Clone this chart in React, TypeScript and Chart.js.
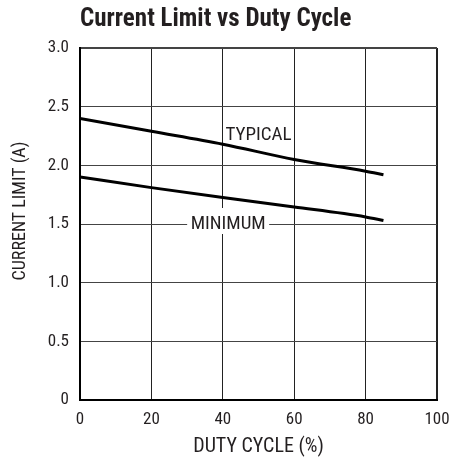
import React, { useEffect, useRef } from "react";
import { Chart, registerables } from "chart.js";

Chart.register(...registerables);

const FONT = "'Roboto Condensed', 'Liberation Sans Narrow', 'DejaVu Sans Condensed', sans-serif";

const chartTitle = "Current Limit vs Duty Cycle";
const xAxisTitle = "DUTY CYCLE (%)";
const yAxisTitle = "CURRENT LIMIT (A)";

const dutyCycle = [0, 20, 40, 60, 80, 85];
const typicalLimit = [2.4, 2.29, 2.18, 2.05, 1.95, 1.92];
const minimumLimit = [1.9, 1.81, 1.725, 1.645, 1.56, 1.53];

const xTicks = [0, 20, 40, 60, 80, 100];
const yTicks = [0, 0.5, 1.0, 1.5, 2.0, 2.5, 3.0];

const seriesLabels = ["TYPICAL", "MINIMUM"];
const labelAnchors = [
  { x: 50, y: 2.26, boxed: false },
  { x: 41.5, y: 1.5, boxed: true },
];

const INK = "#231f20";

const annotationPlugin = {
  id: "curveLabels",
  afterDatasetsDraw(chart: any) {
    const { ctx, scales } = chart;
    ctx.save();
    ctx.font = `19px ${FONT}`;
    ctx.textAlign = "center";
    ctx.textBaseline = "middle";
    seriesLabels.forEach((text, i) => {
      const a = labelAnchors[i];
      const px = scales.x.getPixelForValue(a.x);
      const py = scales.y.getPixelForValue(a.y);
      if (a.boxed) {
        const w = ctx.measureText(text).width + 7;
        ctx.fillStyle = "#ffffff";
        ctx.fillRect(px - w / 2, py - 16, w, 26);
      }
      ctx.fillStyle = INK;
      ctx.fillText(text, px, py);
    });
    // y axis title
    const area = chart.chartArea;
    ctx.font = `18px ${FONT}`;
    ctx.translate(20, (area.top + area.bottom) / 2 - 13);
    ctx.rotate(-Math.PI / 2);
    ctx.fillText(yAxisTitle, 0, 0);
    ctx.restore();
  },
};

export default function App() {
  const canvasRef = useRef<HTMLCanvasElement | null>(null);

  useEffect(() => {
    const canvas = canvasRef.current;
    if (!canvas) return;
    Chart.defaults.font.family = FONT;
    Chart.defaults.color = INK;
    const chart = new Chart(canvas, {
      type: "line",
      data: {
        datasets: [
          {
            label: seriesLabels[0],
            data: dutyCycle.map((x, i) => ({ x, y: typicalLimit[i] })),
            borderColor: "#000",
            borderWidth: 3,
            pointRadius: 0,
            cubicInterpolationMode: "monotone",
          },
          {
            label: seriesLabels[1],
            data: dutyCycle.map((x, i) => ({ x, y: minimumLimit[i] })),
            borderColor: "#000",
            borderWidth: 3,
            pointRadius: 0,
            cubicInterpolationMode: "monotone",
          },
        ],
      },
      options: {
        responsive: false,
        animation: false,
        layout: { padding: { left: 0, right: 17, top: 0, bottom: 0 } },
        plugins: {
          legend: { display: false },
          tooltip: { enabled: false },
          title: {
            display: true,
            text: chartTitle,
            align: "start",
            fullSize: false,
            color: INK,
            font: { family: FONT, size: 25, weight: "bold" },
            padding: { top: 5, bottom: 13 },
          },
        },
        scales: {
          x: {
            type: "linear",
            min: 0,
            max: 100,
            afterFit: (s: any) => {
              s.height = 62;
              s.paddingLeft = 0;
              s.paddingRight = 0;
            },
            afterBuildTicks: (s: any) => {
              s.ticks = xTicks.map((v) => ({ value: v }));
            },
            ticks: {
              padding: 10,
              color: INK,
              font: { size: 17 },
              maxRotation: 0,
            },
            grid: {
              drawTicks: false,
              color: "#222",
              lineWidth: (c: any) => (c.index === xTicks.length - 1 ? 2 : 1),
            },
            border: { display: true, color: "#000", width: 2 },
            title: {
              display: true,
              text: xAxisTitle,
              color: INK,
              font: { size: 20 },
              padding: { top: 0, bottom: 3 },
            },
          },
          y: {
            type: "linear",
            min: 0,
            max: 3,
            afterFit: (s: any) => {
              s.width = 80;
              s.paddingTop = 0;
              s.paddingBottom = 0;
            },
            afterBuildTicks: (s: any) => {
              s.ticks = yTicks.map((v) => ({ value: v }));
            },
            ticks: {
              padding: 11,
              color: INK,
              font: { size: 17 },
              callback: (v: any) => (Number(v) === 0 ? "0" : Number(v).toFixed(1)),
            },
            grid: {
              drawTicks: false,
              color: "#444",
              lineWidth: (c: any) => (c.index === yTicks.length - 1 ? 2 : 1),
            },
            border: { display: true, color: "#000", width: 2 },
          },
        },
      },
      plugins: [annotationPlugin],
    } as any);
    return () => chart.destroy();
  }, []);

  return (
    <div style={{ position: "absolute", left: 0, top: 0, width: 454, height: 462, background: "#fff" }}>
      <canvas ref={canvasRef} width={454} height={462} style={{ display: "block" }} />
    </div>
  );
}
